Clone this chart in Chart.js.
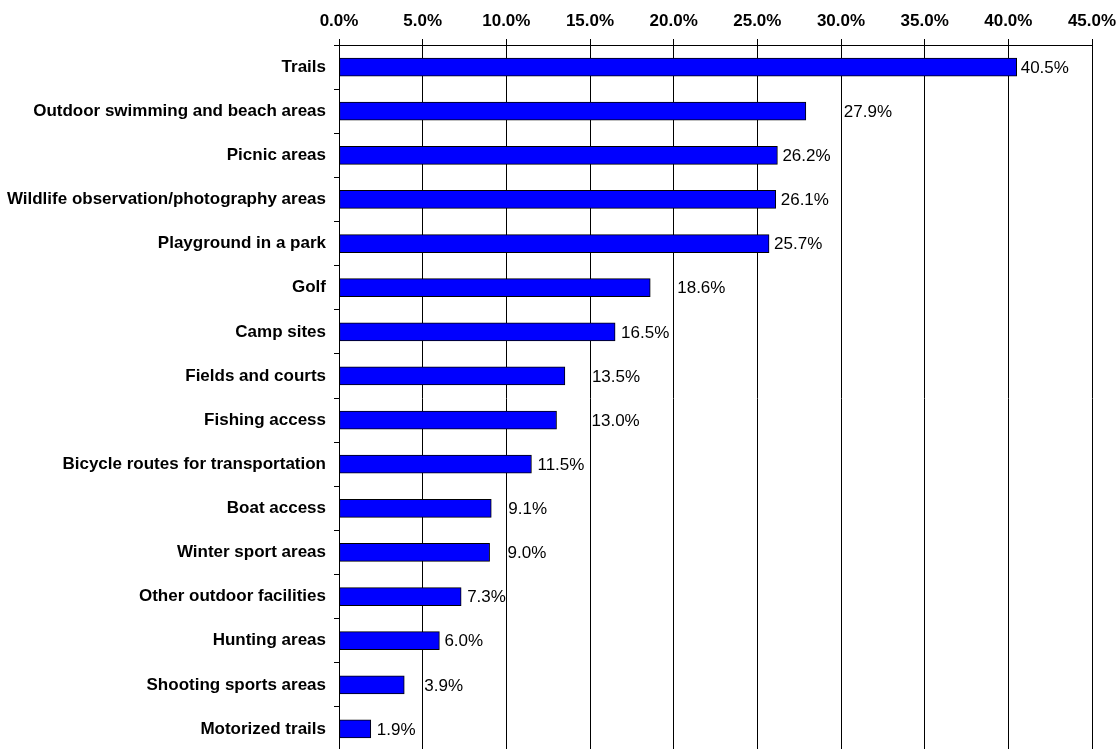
<!DOCTYPE html>
<html>
<head>
<meta charset="utf-8">
<script src="https://cdn.jsdelivr.net/npm/chart.js@4/dist/chart.umd.min.js"></script>
<style>
    html, body { margin: 0; padding: 0; background: #fff; overflow: hidden; }
</style>
</head>
<body>
<canvas id="chart" width="1120" height="752"></canvas>
<script>
var categories = [
    "Trails",
    "Outdoor swimming and beach areas",
    "Picnic areas",
    "Wildlife observation/photography areas",
    "Playground in a park",
    "Golf",
    "Camp sites",
    "Fields and courts",
    "Fishing access",
    "Bicycle routes for transportation",
    "Boat access",
    "Winter sport areas",
    "Other outdoor facilities",
    "Hunting areas",
    "Shooting sports areas",
    "Motorized trails"
];
var percents = [40.5, 27.9, 26.2, 26.1, 25.7, 18.6, 16.5, 13.5, 13.0, 11.5, 9.1, 9.0, 7.3, 6.0, 3.9, 1.9];
var tickValues = [0, 5, 10, 15, 20, 25, 30, 35, 40, 45];

// excel moved some labels by hand, gap in px from bar end
var labelGap = [4, 38, 5, 5, 5, 27, 6, 27, 35, 6, 17, 18, 6, 5, 20, 6];

var fontName = '"Liberation Sans", Arial, sans-serif';

var valueLabels = {
    id: 'valueLabels',
    afterDatasetsDraw: function(chart) {
        var ctx = chart.ctx;
        var meta = chart.getDatasetMeta(0);
        ctx.save();
        ctx.font = '17px ' + fontName;
        ctx.textBaseline = 'middle';
        ctx.textAlign = 'left';
        meta.data.forEach(function(bar, i) {
            var txt = percents[i].toFixed(1) + '%';
            ctx.fillStyle = '#000';
            ctx.fillText(txt, bar.x + labelGap[i], bar.y + 1);
        });
        ctx.restore();
    }
};

new Chart(document.getElementById('chart'), {
    type: 'bar',
    data: {
        labels: categories,
        datasets: [{
            data: percents,
            backgroundColor: '#0000FF',
            borderColor: '#000000',
            borderWidth: 1,
            borderSkipped: false,
            barThickness: 18
        }]
    },
    options: {
        indexAxis: 'y',
        responsive: false,
        animation: false,
        devicePixelRatio: 1,
        layout: { padding: { top: 0, right: 28, bottom: 1, left: 0 } },
        plugins: {
            legend: { display: false },
            tooltip: { enabled: false }
        },
        scales: {
            x: {
                position: 'top',
                min: 0,
                max: 45,
                afterBuildTicks: function(scale) {
                    scale.ticks = tickValues.map(function(v) { return { value: v }; });
                },
                afterFit: function(scale) {
                    scale.height = 45;
                    scale.paddingLeft = 0;
                    scale.paddingRight = 0;
                },
                grid: { color: '#000', lineWidth: 1, tickLength: 6 },
                border: { color: '#000', width: 1 },
                ticks: {
                    color: '#000',
                    padding: 7,
                    maxRotation: 0,
                    font: { family: fontName, size: 17, weight: 'bold' },
                    callback: function(v) { return v.toFixed(1) + '%'; }
                }
            },
            y: {
                afterFit: function(scale) {
                    scale.width = 339;
                    scale.paddingTop = 0;
                    scale.paddingBottom = 0;
                },
                grid: { drawOnChartArea: false, color: '#000', tickLength: 5, offset: true },
                border: { color: '#000', width: 1 },
                ticks: {
                    color: '#000',
                    padding: 8,
                    font: { family: fontName, size: 17, weight: 'bold' }
                }
            }
        }
    },
    plugins: [valueLabels]
});
</script>
</body>
</html>
